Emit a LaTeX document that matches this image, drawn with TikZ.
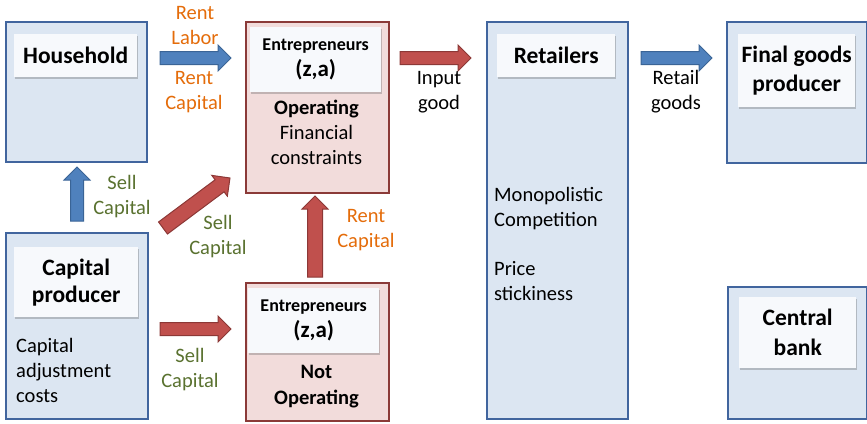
\documentclass[tikz,border=0pt]{standalone}
\usepackage{fontspec}
\setmainfont{Carlito}
\usetikzlibrary{calc,shadows}

\definecolor{bluefill}{HTML}{DCE6F2}
\definecolor{blueline}{HTML}{41659E}
\definecolor{redfill}{HTML}{F2DCDB}
\definecolor{redline}{HTML}{8B3A38}
\definecolor{labelfill}{HTML}{F7F9FC}
\definecolor{arrowblue}{HTML}{4F81BD}
\definecolor{arrowblueline}{HTML}{3A6496}
\definecolor{arrowred}{HTML}{C0504D}
\definecolor{arrowredline}{HTML}{8C3836}
\definecolor{rentcol}{HTML}{E46C0A}
\definecolor{sellcol}{HTML}{5A7230}

\tikzset{
  agent/.style={rectangle, anchor=north west, line width=2pt, inner sep=0pt},
  bluebox/.style={agent, draw=blueline, fill=bluefill},
  redbox/.style={agent, draw=redline, fill=redfill},
  tagbox/.style={rectangle, anchor=north west, fill=labelfill, inner sep=0pt,
    align=center, font=\fontsize{23.5}{29}\selectfont\bfseries,
    drop shadow={shadow xshift=1pt, shadow yshift=-1.5pt, opacity=0.35, fill=black!60}},
  body/.style={inner sep=0pt, align=center, font=\fontsize{20.5}{25}\selectfont},
  rentlbl/.style={body, text=rentcol},
  selllbl/.style={body, text=sellcol},
  bluearrow/.style={fill=arrowblue, draw=arrowblueline, line width=1pt, line join=miter},
  redarrow/.style={fill=arrowred, draw=arrowredline, line width=1pt, line join=miter},
}

% block arrow: #1 style, #2 shaft half-width, #3 tail coordinate, #4 tip coordinate
\newcommand\fatarrow[4]{%
  \path let \p1=($(#4)-(#3)$) in
    \pgfextra{\pgfmathsetmacro\faang{atan2(\y1,\x1)}%
              \pgfmathsetmacro\falen{veclen(\x1,\y1)}%
              \xdef\faang{\faang}\xdef\falen{\falen}};
  \begin{scope}[shift={(#3)}, rotate=\faang]
    \draw[#1] (0,-#2) -- (\falen-13,-#2) -- (\falen-13,-13) -- (\falen,0)
      -- (\falen-13,13) -- (\falen-13,#2) -- (0,#2) -- cycle;
  \end{scope}}

\begin{document}
\begin{tikzpicture}[x=1pt, y=-1pt]
\useasboundingbox (0,0) rectangle (867,423);

% agents
\node[bluebox, minimum width=141, minimum height=140] (hh)  at (5,21)   {};
\node[redbox,  minimum width=143, minimum height=171] (op)  at (245,21) {};
\node[bluebox, minimum width=142, minimum height=186] (cp)  at (5,232)  {};
\node[redbox,  minimum width=143, minimum height=138] (no)  at (245,282) {};
\node[bluebox, minimum width=141, minimum height=397] (ret) at (486,21) {};
\node[bluebox, minimum width=140, minimum height=141] (fg)  at (726,21) {};
\node[bluebox, minimum width=139, minimum height=132] (cb)  at (727,286) {};

% title tags
\node[tagbox, minimum width=123, minimum height=43] (hht) at (14,34) {Household};
\node[tagbox, minimum width=131, minimum height=65, font=\fontsize{18}{26}\selectfont\bfseries] (opt) at (250,27)
  {Entrepreneurs\\{\fontsize{23}{26}\selectfont (z,a)}};
\node[tagbox, minimum width=124, minimum height=70, font=\fontsize{23.5}{27}\selectfont\bfseries] (cpt) at (14,247) {Capital\\producer};
\node[tagbox, minimum width=131, minimum height=65, font=\fontsize{18}{26}\selectfont\bfseries] (not) at (248,288)
  {Entrepreneurs\\{\fontsize{23}{26}\selectfont (z,a)}};
\node[tagbox, minimum width=118, minimum height=43] (rett) at (497,34) {Retailers};
\node[tagbox, minimum width=117, minimum height=73] (fgt) at (738,34) {Final goods\\producer};
\node[tagbox, minimum width=117, minimum height=71, font=\fontsize{23.5}{30}\selectfont\bfseries] (cbt) at (739,297) {Central\\bank};

% descriptions inside the agents
\node[body] (opd) at (316.5,132) {\textbf{Operating}\\Financial\\constraints};
\node[body, font=\fontsize{20.5}{26}\selectfont\bfseries] (nod) at (316.5,387) {Not\\Operating};
\node[body, align=left, anchor=west] (cpd) at (16,370) {Capital\\adjustment\\costs};
\node[body, align=left, anchor=west] (retd) at (494,244) {Monopolistic\\Competition\\[24pt]Price\\stickiness};

% arrow end points
\coordinate (a1s) at (160,58);  \coordinate (a1e) at (231,58);
\coordinate (a2s) at (400,58);  \coordinate (a2e) at (471,58);
\coordinate (a3s) at (641,58);  \coordinate (a3e) at (712,58);
\coordinate (a4s) at (77,221);  \coordinate (a4e) at (77,167);
\coordinate (a5s) at (163,228); \coordinate (a5e) at (230,178);
\coordinate (a6s) at (160,329); \coordinate (a6e) at (231,329);
\coordinate (a7s) at (315,277); \coordinate (a7e) at (315,196);

\fatarrow{bluearrow}{6.5}{a1s}{a1e}
\fatarrow{redarrow}{6.5}{a2s}{a2e}
\fatarrow{bluearrow}{6.5}{a3s}{a3e}
\fatarrow{bluearrow}{6.5}{a4s}{a4e}
\fatarrow{redarrow}{7.5}{a5s}{a5e}
\fatarrow{redarrow}{6.5}{a6s}{a6e}
\fatarrow{redarrow}{7.5}{a7s}{a7e}

% flow labels
\node[rentlbl] (l1) at (195,25)  {Rent\\Labor};
\node[rentlbl] (l2) at (194,92)  {Rent\\Capital};
\node[body]    (l3) at (439,92)  {Input\\good};
\node[body]    (l4) at (676,92)  {Retail\\goods};
\node[selllbl] (l5) at (122,197) {Sell\\Capital};
\node[selllbl] (l6) at (218,237) {Sell\\Capital};
\node[rentlbl] (l7) at (366,230) {Rent\\Capital};
\node[selllbl] (l8) at (190,370) {Sell\\Capital};
\end{tikzpicture}
\end{document}
